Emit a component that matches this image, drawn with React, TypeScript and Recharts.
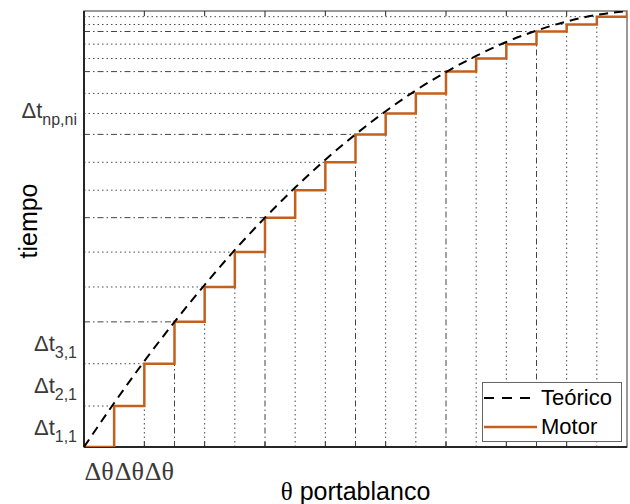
import React from 'react';
import { ComposedChart, Line, XAxis, YAxis, ReferenceLine, ReferenceArea, Legend } from 'recharts';

// θ positions (step index) and values (units: % of the y range)
const theta = [0, 1, 2, 3, 4, 5, 6, 7, 8, 9, 10, 11, 12, 13, 14, 15, 16, 17, 18];
// Motor step levels (corners of the staircase)
const motor = [0, 9.4, 19.1, 28.7, 36.7, 44.7, 52.6, 58.9, 65.3, 71.7, 76.5, 81.1, 86.1, 89.1, 92.4, 95.3, 96.9, 98.7, 100];
// Theoretical (dashed) curve read at each θ
const teorico = [0, 10.1, 19.7, 28.7, 37.2, 45.2, 52.6, 59.5, 65.9, 71.7, 77.0, 81.8, 86.0, 89.7, 92.9, 95.5, 97.6, 99.1, 100];

const seriesNames = ['Teórico', 'Motor'];

const xTickPos = [0.5, 1.5, 2.5];
const xTickLabels = ['Δθ', 'Δθ', 'Δθ'];

const yTickPos = [4.7, 14.25, 23.9, 77.3];
const yTickMain = ['Δt', 'Δt', 'Δt', 'Δt'];
const yTickSub = ['1,1', '2,1', '3,1', 'np,ni'];

const boxTickPos = [2, 4, 6, 8, 10, 12, 14, 16];

const ORANGE = '#C4601D';
const SANS = '"Liberation Sans", Arial, sans-serif';
const SERIF = '"Liberation Serif", "Times New Roman", serif';

const data = theta.map((th, i) => ({ theta: th, teorico: teorico[i], motor: motor[i] }));

const XTick = (props: any) => {
  const { x, y, index } = props;
  return (
    <text x={x} y={y} dy={33} textAnchor="middle" fill="#3a3a3a" fontFamily={SERIF} fontSize={26}>
      {xTickLabels[index]}
    </text>
  );
};

const YTick = (props: any) => {
  const { x, y, index } = props;
  return (
    <text x={x} y={y} dy={8.5} textAnchor="end" fill="#3a3a3a" fontFamily={SANS} fontSize={22}>
      <tspan>{yTickMain[index]}</tspan>
      <tspan fontSize={16} dy={7}>{yTickSub[index]}</tspan>
    </text>
  );
};

const LegendBox = () => (
  <div
    style={{
      width: 140,
      height: 60,
      boxSizing: 'border-box',
      border: '1px solid #666',
      background: '#fff',
      position: 'relative',
      fontFamily: SANS,
      fontSize: 22,
      color: '#000',
    }}
  >
    <svg width={58} height={58} style={{ position: 'absolute', left: 0, top: 0 }}>
      <line x1={1} x2={54} y1={15} y2={15} stroke="#000" strokeWidth={2} strokeDasharray="10 8" />
      <line x1={1} x2={54} y1={44} y2={44} stroke={ORANGE} strokeWidth={2.5} />
    </svg>
    <div style={{ position: 'absolute', left: 58, top: 2, lineHeight: '26px', whiteSpace: 'nowrap' }}>{seriesNames[0]}</div>
    <div style={{ position: 'absolute', left: 58, top: 31, lineHeight: '26px', whiteSpace: 'nowrap' }}>{seriesNames[1]}</div>
  </div>
);

export default function App() {
  const gridH = motor.slice(1, 18).map((t, k) => {
    const i = k + 1;
    const dd = i % 3 === 0;
    return (
      <ReferenceLine
        key={'h' + i}
        segment={[{ x: 0, y: t }, { x: theta[i], y: t }]}
        stroke={dd ? '#444' : '#4a4a4a'}
        strokeWidth={1}
        strokeDasharray={dd ? '6 3 1.5 3' : '1.5 3'}
      />
    );
  });
  const gridV = motor.slice(1, 18).map((t, k) => {
    const i = k + 1;
    const dd = i % 3 === 0;
    return (
      <ReferenceLine
        key={'v' + i}
        segment={[{ x: theta[i], y: 0 }, { x: theta[i], y: t }]}
        stroke={dd ? '#444' : '#4a4a4a'}
        strokeWidth={1}
        strokeDasharray={dd ? '6 3 1.5 3' : '1.5 3'}
      />
    );
  });
  const ticksBottom = boxTickPos.map((p) => (
    <ReferenceLine key={'tb' + p} segment={[{ x: p, y: 0 }, { x: p, y: 1.2 }]} stroke="#262626" strokeWidth={1} />
  ));
  const ticksTop = boxTickPos.map((p) => (
    <ReferenceLine key={'tt' + p} segment={[{ x: p, y: 100 }, { x: p, y: 98.8 }]} stroke="#262626" strokeWidth={1} />
  ));

  return (
    <div style={{ position: 'absolute', left: 0, top: 0, width: 630, height: 504, background: '#fff' }}>
      <ComposedChart width={630} height={504} data={data} margin={{ top: 11, right: 3, left: 0, bottom: 0 }}>
        <XAxis
          dataKey="theta"
          type="number"
          domain={[0, 18]}
          ticks={xTickPos}
          interval={0}
          tick={<XTick />}
          tickLine={false}
          tickSize={0}
          tickMargin={0}
          height={57}
          axisLine={false}
          allowDataOverflow
          label={{
            content: (p: any) => {
              const vb = p.viewBox;
              return (
                <text x={vb.x + vb.width / 2} y={vb.y + 53} textAnchor="middle" fill="#000" fontFamily={SANS} fontSize={25}>
                  <tspan fontFamily={SERIF}>θ</tspan>
                  <tspan> portablanco</tspan>
                </text>
              );
            },
          }}
        />
        <YAxis
          type="number"
          domain={[0, 100]}
          ticks={yTickPos}
          interval={0}
          tick={<YTick />}
          tickLine={false}
          tickSize={0}
          tickMargin={7}
          width={84}
          axisLine={false}
          allowDataOverflow
          label={{
            content: () => (
              <text x={37} y={221} transform="rotate(-90, 37, 221)" textAnchor="middle" fill="#000" fontFamily={SANS} fontSize={25}>
                tiempo
              </text>
            ),
          }}
        />
        {gridH}
        {gridV}
        <ReferenceArea x1={0} x2={18} y1={0} y2={100} fill="none" stroke="#777" strokeWidth={1.5} />
        <ReferenceLine segment={[{ x: 0, y: 0 }, { x: 18, y: 0 }]} stroke="#262626" strokeWidth={2} />
        <ReferenceLine segment={[{ x: 0, y: 0 }, { x: 0, y: 100 }]} stroke="#262626" strokeWidth={2} />
        {ticksBottom}
        {ticksTop}
        <Line
          dataKey="motor"
          name={seriesNames[1]}
          type="stepAfter"
          stroke={ORANGE}
          strokeWidth={2.5}
          dot={false}
          activeDot={false}
          isAnimationActive={false}
        />
        <Line
          dataKey="teorico"
          name={seriesNames[0]}
          type="monotone"
          stroke="#000"
          strokeWidth={2}
          strokeDasharray="9 6"
          dot={false}
          activeDot={false}
          isAnimationActive={false}
        />
        <Legend
          layout="horizontal"
          verticalAlign="middle"
          align="center"
          content={() => <LegendBox />}
          wrapperStyle={{ position: 'absolute', left: 482, top: 382, width: 140, height: 60 }}
        />
      </ComposedChart>
    </div>
  );
}
